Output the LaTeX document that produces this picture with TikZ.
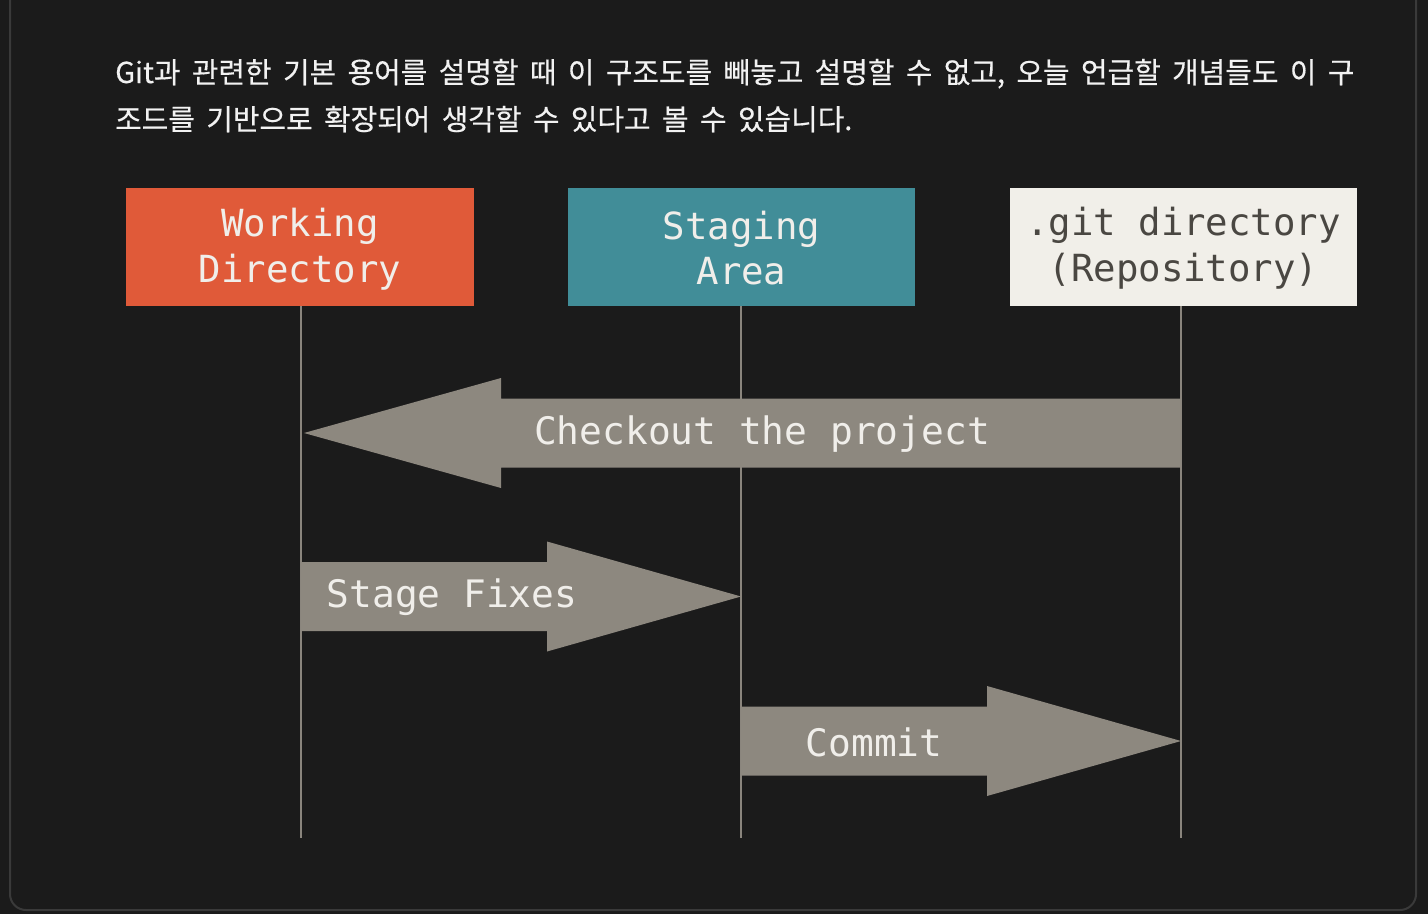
\documentclass[tikz,border=0pt]{standalone}
\usepackage{fontspec}
\newfontfamily\kofont[FakeBold=0.4]{Noto Sans CJK KR}
\newfontfamily\gitmono{DejaVu Sans Mono}
\usetikzlibrary{calc}
\definecolor{bgc}{HTML}{1B1B1B}
\definecolor{cardline}{HTML}{3A3A3A}
\definecolor{wdcol}{HTML}{E05A39}
\definecolor{sacol}{HTML}{418D98}
\definecolor{gitcol}{HTML}{F1EFE9}
\definecolor{gittxt}{HTML}{4A4742}
\definecolor{arrcol}{HTML}{8D887F}
\definecolor{linecol}{HTML}{8A857D}
\definecolor{lighttxt}{HTML}{F0EEEA}
\definecolor{kotxt}{HTML}{F2F2F2}
\newcommand\kosetup{\kofont\fontsize{29}{34}\selectfont\spaceskip=11.4bp\relax}
\newcommand\blockarrow[3]{%
  \fill[arrowfill] ($(#1)+(0,-34.5)$) -- ($(#2)+(#3,-34.5)$) -- ($(#2)+(#3,-55)$) -- (#2)
    -- ($(#2)+(#3,55)$) -- ($(#2)+(#3,34.5)$) -- ($(#1)+(0,34.5)$) -- cycle;}
\begin{document}
\begin{tikzpicture}[x=1bp,y=-1bp,
  stagebox/.style={rectangle, minimum width=347bp, minimum height=118bp, inner sep=0pt,
    align=center, font=\gitmono\fontsize{37.5}{46}\selectfont},
  boxtext/.style={inner sep=0pt, align=center, font=\gitmono\fontsize{37.5}{46}\selectfont},
  lifeline/.style={draw=linecol, line width=2bp},
  arrowfill/.style={fill=arrcol},
  arrowlabel/.style={text=lighttxt, font=\gitmono\fontsize{38}{46}\selectfont, inner sep=0pt},
  kotext/.style={text=kotxt, font=\kosetup, inner sep=0pt, anchor=base west}]
\fill[bgc] (0,0) rectangle (1428,914);
\useasboundingbox (0,0) rectangle (1428,914);
\draw[cardline, line width=2bp, rounded corners=16bp] (10,-40) -- (10,910) -- (1416,910) -- (1416,-40);

\node[kotext] (line1) at (115,83) {Git과 관련한 기본 용어를 설명할 때 이 구조도를 빼놓고 설명할 수 없고, 오늘 언급할 개념들도 이 구};
\node[kotext] (line2) at (115,130) {조드를 기반으로 확장되어 생각할 수 있다고 볼 수 있습니다.};

\node[stagebox, fill=wdcol, text=lighttxt] (wd) at (300,247) {};
\node[boxtext, text=lighttxt] (wdtext) at (300,249) {Working\\Directory};
\node[stagebox, fill=sacol, text=lighttxt] (sa) at (741.5,247) {};
\node[boxtext, text=lighttxt] (satext) at (741.5,248) {Staging\\Area};
\node[stagebox, fill=gitcol, text=gittxt] (git) at (1183.5,247) {};
\node[boxtext, text=gittxt] (gittext) at (1183.5,248) {.git directory\\(Repository)};

\coordinate (wdend) at (301,838);
\coordinate (saend) at (741,838);
\coordinate (gitend) at (1181,838);
\draw[lifeline] (wd.south -| wdend) -- (wdend);
\draw[lifeline] (sa.south -| saend) -- (saend);
\draw[lifeline] (git.south -| gitend) -- (gitend);

\coordinate (coTail) at (1181,433);
\coordinate (coTip) at (304,433);
\blockarrow{coTail}{coTip}{197}
\node[arrowlabel] (colabel) at (762,434) {Checkout the project};

\coordinate (sfTail) at (301,596.5);
\coordinate (sfTip) at (741,596.5);
\blockarrow{sfTail}{sfTip}{-194}
\node[arrowlabel] (sflabel) at (452,597.5) {Stage Fixes};

\coordinate (cmTail) at (741,741);
\coordinate (cmTip) at (1181,741);
\blockarrow{cmTail}{cmTip}{-194}
\node[arrowlabel] (cmlabel) at (874,742) {Commit};
\end{tikzpicture}
\end{document}
